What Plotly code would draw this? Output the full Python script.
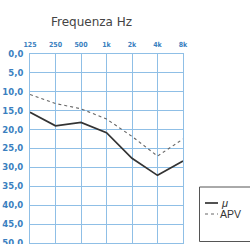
import plotly.graph_objects as go

freq_labels = ["125", "250", "500", "1k", "2k", "4k", "8k"]
mu_values = [15.4, 19.0, 18.1, 20.8, 27.6, 32.1, 28.3]
apv_values = [10.7, 13.1, 14.5, 17.2, 21.8, 27.0, 22.5]
y_ticks = [0, 5, 10, 15, 20, 25, 30, 35, 40, 45, 50]
y_tick_labels = ["0,0", "5,0", "10,0", "15,0", "20,0", "25,0", "30,0", "35,0", "40,0", "45,0", "50,0"]
legend_names = ["<i>\u03bc</i>", "APV"]

xpos = list(range(len(freq_labels)))
grid_c = "#8fbfe6"
tick_c = "#3a7fc0"

W, H = 250, 244
# plot area in window coordinates: x 30..183, y 54..243
L = 30
T = 54
R = W - 183
B = H - 243
pw, ph = W - L - R, H - T - B


def px_x(x):
    return (x - L) / pw


def px_y(y):
    return (H - B - y) / ph


fig = go.Figure()
fig.add_trace(go.Scatter(x=xpos, y=mu_values, mode="lines", name="\u03bc",
                         line=dict(color="#333333", width=1.7), showlegend=False))
fig.add_trace(go.Scatter(x=xpos, y=apv_values, mode="lines", name="APV",
                         line=dict(color="#666666", width=1.1, dash="dot"), showlegend=False))

shapes = [
    dict(type="rect", xref="paper", yref="paper", x0=px_x(199.5), x1=px_x(252), y0=px_y(241.5), y1=px_y(187),
         line=dict(color="#555555", width=1), fillcolor="white"),
    dict(type="line", xref="paper", yref="paper", x0=px_x(205), x1=px_x(218), y0=px_y(203), y1=px_y(203),
         line=dict(color="#333333", width=1.7)),
    dict(type="line", xref="paper", yref="paper", x0=px_x(205), x1=px_x(218), y0=px_y(214), y1=px_y(214),
         line=dict(color="#666666", width=1, dash="dot")),
]
annotations = [
    dict(text="Frequenza Hz", xref="paper", yref="paper", x=px_x(91), y=px_y(22),
         xanchor="center", yanchor="middle", showarrow=False,
         font=dict(family="DejaVu Sans, Verdana", size=12, color="#444444")),
    dict(text=legend_names[0], xref="paper", yref="paper", x=px_x(219), y=px_y(203),
         xanchor="left", yanchor="middle", showarrow=False,
         font=dict(family="Liberation Sans, Arial", size=11, color="#333333")),
    dict(text=legend_names[1], xref="paper", yref="paper", x=px_x(218), y=px_y(213.5),
         xanchor="left", yanchor="middle", showarrow=False,
         font=dict(family="Liberation Sans Narrow, Liberation Sans", size=10.5, color="#333333")),
]

fig.update_layout(
    width=W, height=H,
    margin=dict(l=L, r=R, t=T, b=B, autoexpand=False),
    paper_bgcolor="white", plot_bgcolor="white",
    showlegend=False,
    shapes=shapes, annotations=annotations,
)
fig.update_xaxes(side="top", range=[0, 6], tickmode="array", tickvals=xpos, ticktext=freq_labels,
                 showgrid=True, gridcolor=grid_c, gridwidth=1, showline=True, linecolor=grid_c, mirror=True,
                 ticks="", ticklabelstandoff=3, ticklabeloverflow="allow",
                 tickfont=dict(family="DejaVu Sans Condensed, DejaVu Sans", size=7, color=tick_c, weight="bold"),
                 zeroline=False, fixedrange=True, automargin=False)
fig.update_yaxes(range=[50, 0], tickmode="array", tickvals=y_ticks, ticktext=y_tick_labels,
                 showgrid=True, gridcolor=grid_c, gridwidth=1, showline=True, linecolor=grid_c, mirror=True,
                 ticks="", ticklabelstandoff=4, ticklabeloverflow="allow",
                 tickfont=dict(family="DejaVu Sans", size=8.5, color=tick_c, weight="bold"),
                 zeroline=False, fixedrange=True, automargin=False)

fig.write_html("out.html", config={"displayModeBar": False},
               post_script="document.body.style.margin='0px';")
